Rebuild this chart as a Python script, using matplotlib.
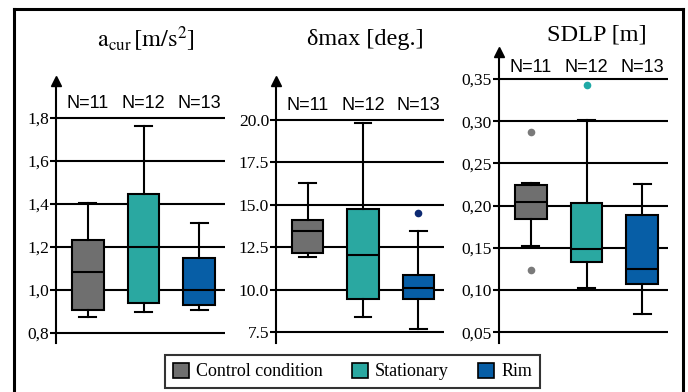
import matplotlib
matplotlib.use("Agg")
import matplotlib.pyplot as plt
from matplotlib.patches import Patch
from matplotlib.lines import Line2D

SERIF = 'Liberation Serif'
SANS = 'Liberation Sans'
plt.rcParams['font.family'] = [SERIF, 'DejaVu Serif']
plt.rcParams['mathtext.fontset'] = 'stix'

# ---------------- data ----------------
conditions = ["Control condition", "Stationary", "Rim"]
n_labels = ["N=11", "N=12", "N=13"]
colors = ["#6f6f6f", "#2aa8a1", "#075ea6"]
flier_colors = ["#7a7a7a", "#1fa9a6", "#0d2a72"]

titles = [r"$\mathrm{a}_{\mathrm{cur}}\,[\mathrm{m/s}^{2}]$", "\u03b4max [deg.]", "SDLP [m]"]

# a_cur
acur_whislo = [0.873, 0.896, 0.907]
acur_q1 = [0.907, 0.940, 0.930]
acur_med = [1.085, 1.200, 1.000]
acur_q3 = [1.234, 1.448, 1.149]
acur_whishi = [1.405, 1.765, 1.313]
acur_fliers = [[], [], []]
acur_ticks = [0.8, 1.0, 1.2, 1.4, 1.6, 1.8]
acur_ticklabels = ["0,8", "1,0", "1,2", "1,4", "1,6", "1,8"]

# delta max
dmax_whislo = [11.94, 8.39, 7.72]
dmax_q1 = [12.18, 9.49, 9.49]
dmax_med = [13.47, 12.06, 10.10]
dmax_q3 = [14.10, 14.75, 10.86]
dmax_whishi = [16.27, 19.80, 13.45]
dmax_fliers = [[], [], [14.55]]
dmax_ticks = [7.5, 10.0, 12.5, 15.0, 17.5, 20.0]
dmax_ticklabels = ["7.5", "10.0", "12.5", "15.0", "17.5", "20.0"]

# SDLP
sdlp_whislo = [0.152, 0.102, 0.072]
sdlp_q1 = [0.184, 0.133, 0.107]
sdlp_med = [0.204, 0.148, 0.125]
sdlp_q3 = [0.224, 0.203, 0.189]
sdlp_whishi = [0.227, 0.301, 0.225]
sdlp_fliers = [[0.287, 0.124], [0.343], []]
sdlp_ticks = [0.05, 0.10, 0.15, 0.20, 0.25, 0.30, 0.35]
sdlp_ticklabels = ["0,05", "0,10", "0,15", "0,20", "0,25", "0,30", "0,35"]

panels = [
    dict(title=titles[0], whislo=acur_whislo, q1=acur_q1, med=acur_med, q3=acur_q3,
         whishi=acur_whishi, fliers=acur_fliers, ticks=acur_ticks, ticklabels=acur_ticklabels),
    dict(title=titles[1], whislo=dmax_whislo, q1=dmax_q1, med=dmax_med, q3=dmax_q3,
         whishi=dmax_whishi, fliers=dmax_fliers, ticks=dmax_ticks, ticklabels=dmax_ticklabels),
    dict(title=titles[2], whislo=sdlp_whislo, q1=sdlp_q1, med=sdlp_med, q3=sdlp_q3,
         whishi=sdlp_whishi, fliers=sdlp_fliers, ticks=sdlp_ticks, ticklabels=sdlp_ticklabels),
]

# ---------------- layout (pixels) ----------------
W, H = 688, 392
fig = plt.figure(figsize=(W / 100, H / 100), dpi=100)

layout = [
    dict(l=56, r=225, t=81, b=343, ylim=(0.7535, 1.972), tx=146, ty=39, ny=104),
    dict(l=276, r=444, t=81, b=343, ylim=(6.882, 22.29), tx=365, ty=39, ny=105),
    dict(l=499, r=668, t=52, b=343, ylim=(0.0372, 0.3819), tx=597, ty=35, ny=68),
]

positions = [1, 2, 3]
LW = 1.5

for p, L in zip(panels, layout):
    ax = fig.add_axes([L['l'] / W, 1 - L['b'] / H, (L['r'] - L['l']) / W, (L['b'] - L['t']) / H])

    stats = []
    for i in range(3):
        stats.append(dict(whislo=p['whislo'][i], q1=p['q1'][i], med=p['med'][i],
                          q3=p['q3'][i], whishi=p['whishi'][i], fliers=p['fliers'][i]))
    bp = ax.bxp(stats, positions=positions, widths=0.57, capwidths=0.3,
                patch_artist=True, showfliers=True, manage_ticks=False,
                boxprops=dict(edgecolor='black', linewidth=LW),
                medianprops=dict(color='black', linewidth=LW),
                whiskerprops=dict(color='black', linewidth=LW),
                capprops=dict(color='black', linewidth=LW),
                flierprops=dict(marker='o', markersize=5.5, markeredgewidth=0))
    for i, box in enumerate(bp['boxes']):
        box.set_facecolor(colors[i])
        box.set_zorder(3)
    for i, fl in enumerate(bp['fliers']):
        fl.set_markerfacecolor(flier_colors[i])
        fl.set_zorder(4)
    for k in ['medians', 'whiskers', 'caps']:
        for a in bp[k]:
            a.set_zorder(3.5)

    ax.set_xlim(0.43, 3.46)
    ax.set_ylim(*L['ylim'])
    for s in ['top', 'right', 'bottom']:
        ax.spines[s].set_visible(False)
    ax.spines['left'].set_linewidth(LW)
    ax.set_xticks([])
    ax.set_yticks(p['ticks'])
    ax.set_yticklabels(p['ticklabels'], fontfamily=SERIF, fontsize=12.5)
    ax.tick_params(axis='y', direction='out', length=4, width=LW, pad=1)
    for v in p['ticks']:
        ax.axhline(v, color='black', lw=LW, zorder=1)
    ax.plot([0], [1], marker='^', ms=7, color='black', transform=ax.transAxes,
            clip_on=False, zorder=5)

    ny_frac = (L['b'] - L['ny']) / (L['b'] - L['t'])
    for x, n in zip(positions, n_labels):
        ax.text(x, ny_frac, n, transform=ax.get_xaxis_transform(), ha='center', va='center',
                fontfamily=SANS, fontsize=13)

    fig.text(L['tx'] / W, 1 - L['ty'] / H, p['title'], ha='center', va='center',
             fontfamily=SERIF, fontsize=17.5)

# outer frame
fl_lw = 2.2
fig.add_artist(Line2D([14 / W, 14 / W], [0, 1 - 9 / H], color='black', lw=fl_lw))
fig.add_artist(Line2D([683 / W, 683 / W], [0, 1 - 9 / H], color='black', lw=fl_lw))
fig.add_artist(Line2D([14 / W, 683 / W], [1 - 9 / H, 1 - 9 / H], color='black', lw=fl_lw))

# legend
handles = [Patch(facecolor=c, edgecolor='black', linewidth=1.2) for c in colors]
leg = fig.legend(handles, conditions, loc='center', bbox_to_anchor=(352.5 / W, 1 - 371.5 / H),
                 ncol=3, frameon=True, fancybox=False, edgecolor='black',
                 prop=dict(family=SERIF, size=13), handlelength=0.9, handleheight=0.9,
                 handletextpad=0.4, columnspacing=1.6, borderpad=0.4)
leg.get_frame().set_linewidth(1.5)

fig.savefig("out.png", dpi=100)
